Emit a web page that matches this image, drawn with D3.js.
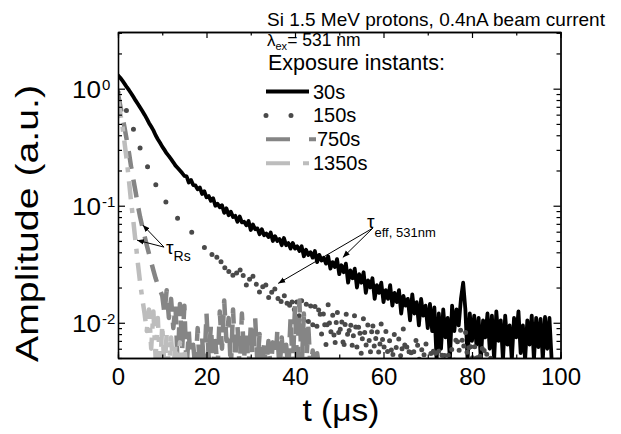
<!DOCTYPE html>
<html>
<head>
<meta charset="utf-8">
<script src="https://cdn.jsdelivr.net/npm/d3@7"></script>
<style>
  body { margin: 0; background: #fff; }
  text { font-family: "Liberation Sans", Arial, sans-serif; fill: #000; }
</style>
</head>
<body>
<svg width="621" height="434"></svg>
<script>
// sampling step of every trace, in microseconds
const dt = 0.5;

// 30s exposure, t = 0 .. 98 us
const amp30 = [
  1.30,1.24,1.17,1.10,1.03,0.97,0.91,0.85,0.79,0.74,0.69,0.645,0.60,0.555,0.51,0.475,
  0.44,0.40,0.37,0.345,0.32,0.30,0.28,0.265,0.25,0.235,0.22,0.21,0.20,0.19,0.18,
  0.178,0.158,0.166,0.150,0.149,0.138,0.143,0.126,0.133,0.118,
  0.121,0.110,0.116,0.100,0.104,0.097,0.101,0.087,0.095,0.083,
  0.089,0.080,0.082,0.073,0.081,0.072,0.073,0.068,0.074,0.062,
  0.069,0.063,0.064,0.057,0.063,0.056,0.058,0.054,0.059,0.050,
  0.055,0.050,0.052,0.046,0.053,0.046,0.048,0.043,0.048,0.043,
  0.045,0.041,0.045,0.037,0.042,0.038,0.040,0.036,0.041,0.033,
  0.038,0.034,
  0.036,0.032,0.037,0.029,0.033,0.030,0.035,0.026,0.031,0.027,
  0.032,0.022,0.028,0.024,0.029,0.020,0.026,0.022,0.027,0.018,
  0.023,0.020,0.024,0.016,0.021,0.018,0.022,0.015,0.019,0.016,
  0.021,0.014,0.018,0.015,0.019,0.012,0.017,0.014,0.016,0.0105,
  0.0175,0.012,0.015,0.0095,0.016,0.0115,0.014,0.009,0.0145,0.0085,
  0.0135,0.0048,
  0.012,0.006,0.013,0.0075,0.011,0.0048,0.014,0.0085,0.013,0.0095,
  0.016,0.022,0.013,0.0048,0.012,0.007,0.0115,0.0065,0.011,0.0048,
  0.0105,0.0075,0.012,0.006,0.0115,0.0048,0.0125,0.007,0.0105,0.0048,
  0.0115,0.0065,0.0095,0.0048,0.011,0.0075,0.0125,0.0055,0.0095,0.0048,
  0.0105,0.0065,0.0115,0.0048,0.011,0.0062,0.0108,0.0048,0.0112,0.006,
  0.011,0.0048
];

// 150s exposure, t = 0 .. 85 us
const amp150 = [
  0.93,0.84,0.76,0.70,0.64,0.57,0.50,0.45,0.40,0.35,0.31,0.28,0.25,0.225,0.20,0.182,
  0.165,0.152,0.14,0.13,0.12,0.112,0.105,0.097,0.09,0.086,0.082,0.078,0.075,0.072,
  0.069,0.066,0.063,0.060,0.058,0.055,0.052,0.049,0.047,0.044,0.042,
  0.044,0.036,0.041,0.033,0.038,0.030,0.036,0.028,0.034,0.027,
  0.032,0.025,0.031,0.024,0.030,0.022,0.028,0.021,0.027,0.020,
  0.025,0.019,0.024,0.018,0.023,0.017,0.022,0.016,0.021,0.0155,
  0.020,0.015,0.019,0.014,0.018,0.013,0.0175,0.012,0.017,0.0115,
  0.016,0.011,0.0155,0.0105,0.015,0.010,0.0145,0.0095,0.014,0.009,
  0.015,0.008,0.013,0.0065,0.0145,0.0075,0.012,0.006,0.0135,0.007,
  0.0115,0.0055,0.013,0.0068,0.011,0.0058,0.0125,0.0062,0.0105,0.0052,
  0.0115,0.006,0.010,0.0052,0.0108,0.0056,0.0095,0.0050,0.0102,0.0055,
  0.0088,0.0052,0.0078,0.0046,0.0085,0.0055,0.0075,0.0046,0.0092,0.0052,
  0.0072,0.0046,0.0068,0.0052,0.0082,0.0046,0.0065,0.0046,0.0072,0.0046,
  0.0062,0.0046,0.0068,0.0046,0.0058,0.0046,0.0064,0.0046,0.0056,0.0046,
  0.0062,0.0046,0.0085,0.0052,0.0095,0.0055,0.0088,0.0048,0.0075,0.0046,
  0.0068,0.0046,0.0062,0.0046,0.0072,0.0046,0.0058,0.0046,0.0055,0.0046
];

// 750s exposure, t = 0 .. 46 us
const amp750 = [
  0.90,0.72,0.58,0.46,0.36,0.28,0.21,0.165,0.13,0.10,0.08,0.066,0.055,0.046,0.039,
  0.033,0.028,0.024,0.021,0.019,0.017,
  0.012,0.019,0.011,0.016,0.009,0.014,0.004,0.0145,0.006,0.014,
  0.004,0.0085,0.004,0.0065,0.004,0.009,0.004,0.0075,0.004,0.012,
  0.005,0.0095,0.004,0.007,0.004,0.0125,0.006,0.0155,0.007,0.011,
  0.004,0.013,0.005,0.0095,0.004,0.012,0.005,0.0085,0.004,0.0095,
  0.004,0.011,0.0045,0.008,0.004,0.0065,0.004,0.007,0.004,0.0068,
  0.004,0.0085,0.004,0.0075,0.004,0.0065,0.004,0.011,0.004,0.014,
  0.004,0.0155,0.004,0.012,0.004,0.0095,0.004,0.0058,0.004,0.0055,
  0.004,0.004
];

// 1350s exposure, t = 0 .. 15.5 us
const amp1350 = [
  0.80,0.62,0.48,0.34,0.24,0.16,0.105,0.072,0.048,0.032,0.022,0.016,0.012,
  0.0085,0.013,0.006,0.0125,0.005,0.011,0.004,0.0095,0.004,0.008,0.004,
  0.0075,0.004,0.0065,0.004,0.0068,0.004,0.006,0.004
];

const seriesNames = ['30s', '150s', '750s', '1350s'];
const xTicks = [0, 20, 40, 60, 80, 100];
const xMinorTicks = [10, 30, 50, 70, 90];
const yTicks = [1, 0.1, 0.01];
const yExponents = ['0', '-1', '-2'];

const header = 'Si 1.5 MeV protons, 0.4nA beam current';
const legendTitle = 'Exposure instants:';
const xAxisLabel = 't (\u03bcs)';
const yAxisLabel = 'Amplitude (a.u.)';

// arrows of the two annotations, in data units [t, amplitude]
const effArrows = [[[57.6, 0.0644], [36.2, 0.0217]], [[57.6, 0.0644], [50.8, 0.0361]]];
const rsArrows = [[[10.4, 0.0443], [5.6, 0.0684]], [[10.4, 0.0443], [4.3, 0.0508]]];

const svg = d3.select('svg');

const x = d3.scaleLinear().domain([0, 100]).range([118, 560.5]);
const y = d3.scaleLog().domain([0.005, 3.05]).range([358, 32]);

const styles = [
  { color: '#000', width: 3.8, dash: null, cap: 'round' },
  { color: '#4a4a4a', width: 5, dash: '0 20', cap: 'round' },
  { color: '#858585', width: 4.5, dash: '18 11', cap: 'butt' },
  { color: '#bdbdbd', width: 4.5, dash: '18 9 5 9', cap: 'butt' }
];
const allAmps = [amp30, amp150, amp750, amp1350];

const defs = svg.append('defs');
defs.append('clipPath').attr('id', 'plot')
  .append('rect')
  .attr('x', x(0)).attr('y', y.range()[1])
  .attr('width', x(100) - x(0)).attr('height', y.range()[0] - y.range()[1]);

defs.append('marker')
  .attr('id', 'head')
  .attr('viewBox', '0 0 10 10')
  .attr('refX', 10).attr('refY', 5)
  .attr('markerWidth', 7).attr('markerHeight', 7)
  .attr('markerUnits', 'userSpaceOnUse')
  .attr('orient', 'auto')
  .append('path').attr('d', 'M0,1L10,5L0,9z').attr('fill', '#000');

const line = d3.line()
  .x((d, i) => x(i * dt))
  .y(d => y(d));

const plot = svg.append('g').attr('clip-path', 'url(#plot)');

allAmps.forEach((amps, k) => {
  const s = styles[k];
  plot.append('path')
    .attr('d', line(amps))
    .attr('fill', 'none')
    .attr('stroke', s.color)
    .attr('stroke-width', s.width)
    .attr('stroke-linejoin', 'round')
    .attr('stroke-linecap', s.cap)
    .attr('stroke-dasharray', s.dash);
});

// axes, ticks pointing inward
const styleAxis = g => {
  g.attr('font-family', null).attr('font-size', 24);
  g.selectAll('.domain').attr('stroke', '#000').attr('stroke-width', 1.3);
  g.selectAll('.tick line').attr('stroke', '#000').attr('stroke-width', 1.2);
};

const yMinor = [];
[0.001, 0.01, 0.1, 1].forEach(dec => {
  for (let m = 2; m <= 9; m++) {
    const v = m * dec;
    if (v > 0.005 - 1e-9 && v < 3.05) yMinor.push(v);
  }
});

svg.append('g').attr('transform', 'translate(0,358)')
  .call(d3.axisBottom(x).tickValues(xTicks).tickSizeInner(-6).tickSizeOuter(0)
    .tickPadding(10).tickFormat(d3.format('d')))
  .call(styleAxis);
svg.append('g').attr('transform', 'translate(0,358)')
  .call(d3.axisBottom(x).tickValues(xMinorTicks).tickSize(-3.5).tickFormat(''))
  .call(styleAxis);
svg.append('g').attr('transform', 'translate(0,32)')
  .call(d3.axisTop(x).tickValues(xTicks).tickSizeInner(-6).tickSizeOuter(0).tickFormat(''))
  .call(styleAxis);
svg.append('g').attr('transform', 'translate(0,32)')
  .call(d3.axisTop(x).tickValues(xMinorTicks).tickSize(-3.5).tickFormat(''))
  .call(styleAxis);

[[d3.axisLeft, x(0)], [d3.axisRight, x(100)]].forEach(([axis, pos]) => {
  svg.append('g').attr('transform', `translate(${pos},0)`)
    .call(axis(y).tickValues(yTicks).tickSizeInner(-7).tickSizeOuter(0).tickFormat(''))
    .call(styleAxis);
  svg.append('g').attr('transform', `translate(${pos},0)`)
    .call(axis(y).tickValues(yMinor).tickSizeInner(-4).tickSizeOuter(0).tickFormat(''))
    .call(styleAxis);
});

// y tick labels as powers of ten
yTicks.forEach((v, i) => {
  svg.append('text')
    .attr('x', 101).attr('y', y(v) + 9)
    .attr('text-anchor', 'end')
    .attr('font-size', 23)
    .attr('textLength', 29).attr('lengthAdjust', 'spacingAndGlyphs')
    .text('10');
  svg.append('text')
    .attr('x', 102).attr('y', y(v) + 1)
    .attr('font-size', 15)
    .text(yExponents[i]);
});

svg.append('text')
  .attr('transform', `translate(38,${(85 + 362) / 2}) rotate(-90)`)
  .attr('text-anchor', 'middle')
  .attr('font-size', 32)
  .attr('textLength', 277).attr('lengthAdjust', 'spacingAndGlyphs')
  .text(yAxisLabel);

svg.append('text')
  .attr('x', 341).attr('y', 421)
  .attr('text-anchor', 'middle')
  .attr('font-size', 32)
  .attr('textLength', 77).attr('lengthAdjust', 'spacingAndGlyphs')
  .text(xAxisLabel);

// header and legend
svg.append('text')
  .attr('x', 267).attr('y', 25.5).attr('font-size', 19)
  .text(header);

const lam = svg.append('text').attr('x', 267).attr('y', 45.5);
lam.append('tspan').attr('font-size', 17).text('\u03bb');
lam.append('tspan').attr('font-size', 11).attr('dy', 4).text('ex');
lam.append('tspan').attr('font-size', 17.5).attr('dy', -4).text('= 531 nm');

svg.append('text')
  .attr('x', 268).attr('y', 69.5).attr('font-size', 21.5)
  .text(legendTitle);

const legend = svg.append('g');
seriesNames.forEach((name, i) => {
  const s = styles[i];
  const ly = 91.5 + i * 23.9;
  legend.append('line')
    .attr('x1', 266).attr('x2', i === 0 ? 309 : 316)
    .attr('y1', ly).attr('y2', ly)
    .attr('stroke', s.color)
    .attr('stroke-width', i === 1 ? 5 : 4)
    .attr('stroke-linecap', i === 1 ? 'round' : 'butt')
    .attr('stroke-dasharray', i === 1 ? '0 25' : i === 2 ? '24 19' : i === 3 ? '24 13 6 13' : null);
  legend.append('text')
    .attr('x', i === 2 ? 317 : 313).attr('y', ly + 7)
    .attr('font-size', 20)
    .text(name);
});

// annotations
const arrows = svg.append('g');
effArrows.concat(rsArrows).forEach(([a, b]) => {
  arrows.append('line')
    .attr('x1', x(a[0])).attr('y1', y(a[1]))
    .attr('x2', x(b[0])).attr('y2', y(b[1]))
    .attr('stroke', '#000').attr('stroke-width', 1)
    .attr('marker-end', 'url(#head)');
});

const eff = svg.append('text').attr('x', 367).attr('y', 228);
eff.append('tspan').attr('font-size', 19).text('\u03c4');
eff.append('tspan').attr('font-size', 13).attr('dy', 9).text('eff, 531nm');

const rs = svg.append('text').attr('x', 166).attr('y', 254);
rs.append('tspan').attr('font-size', 19).text('\u03c4');
rs.append('tspan').attr('font-size', 14).attr('dy', 7).text('Rs');
</script>
</body>
</html>
